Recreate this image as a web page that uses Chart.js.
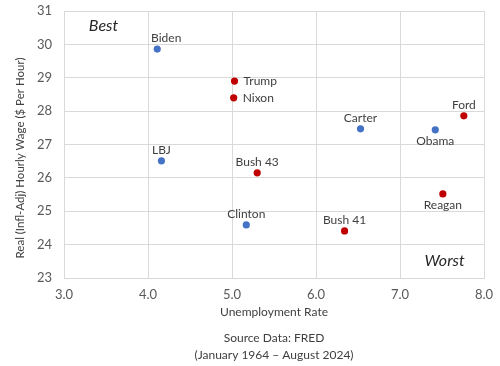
<!DOCTYPE html>
<html>
<head>
<meta charset="utf-8">
<script src="https://cdn.jsdelivr.net/npm/chart.js@4/dist/chart.umd.min.js"></script>
<style>
  html, body { margin: 0; padding: 0; background: #ffffff; }
  #wrap { width: 500px; height: 366px; }
</style>
</head>
<body>
<div id="wrap"><canvas id="c" width="500" height="366"></canvas></div>
<script>
const presidents   = ['Biden', 'Trump', 'Nixon', 'LBJ', 'Bush 43', 'Clinton', 'Bush 41', 'Carter', 'Obama', 'Ford', 'Reagan'];
const unemployment = [4.11, 5.03, 5.02, 4.16, 5.30, 5.17, 6.34, 6.53, 7.42, 7.76, 7.51];
const realWage     = [29.86, 28.90, 28.40, 26.51, 26.15, 24.59, 24.41, 27.47, 27.44, 27.86, 25.52];
const party        = ['D', 'R', 'R', 'D', 'R', 'D', 'R', 'D', 'D', 'R', 'R'];
const xTicks = [3.0, 4.0, 5.0, 6.0, 7.0, 8.0];
const yTicks = [23, 24, 25, 26, 27, 28, 29, 30, 31];

const labelPlacement = ['top', 'right', 'right', 'top', 'top', 'top', 'top', 'top', 'bottom', 'top', 'bottom'];

const partyColor = { D: '#4472C4', R: '#C00000' };
const FONT = "Lato, 'Open Sans', sans-serif";

function buildDataset(p) {
  const pts = [];
  presidents.forEach((name, i) => {
    if (party[i] === p) pts.push({ x: unemployment[i], y: realWage[i], name: name, place: labelPlacement[i] });
  });
  return {
    label: p,
    data: pts,
    backgroundColor: partyColor[p],
    borderColor: partyColor[p],
    borderWidth: 0,
    pointRadius: 3.6,
    pointHoverRadius: 3.6
  };
}

const labelsPlugin = {
  id: 'pointLabels',
  afterDatasetsDraw(chart) {
    const ctx = chart.ctx;
    const xs = chart.scales.x, ys = chart.scales.y;
    const area = chart.chartArea;
    ctx.save();
    ctx.font = '12px ' + FONT;
    ctx.fillStyle = '#404040';
    chart.data.datasets.forEach(ds => {
      ds.data.forEach(d => {
        const px = xs.getPixelForValue(d.x), py = ys.getPixelForValue(d.y);
        if (d.place === 'top') {
          ctx.textAlign = 'center'; ctx.textBaseline = 'middle';
          ctx.fillText(d.name, px + (d.name === 'Biden' ? 9 : 0), py - 11);
        } else if (d.place === 'bottom') {
          ctx.textAlign = 'center'; ctx.textBaseline = 'middle';
          ctx.fillText(d.name, px, py + 11);
        } else {
          ctx.textAlign = 'left'; ctx.textBaseline = 'middle';
          ctx.fillText(d.name, px + 9, py);
        }
      });
    });
    // corner annotations
    ctx.font = 'italic 16px ' + FONT;
    ctx.fillStyle = '#262626';
    ctx.textAlign = 'center'; ctx.textBaseline = 'middle';
    ctx.fillText('Best', xs.getPixelForValue(3.47), ys.getPixelForValue(30.55));
    ctx.fillText('Worst', xs.getPixelForValue(7.53), ys.getPixelForValue(23.52));
    // y axis title
    ctx.font = '11.5px ' + FONT;
    ctx.fillStyle = '#404040';
    ctx.save();
    ctx.translate(20, 158);
    ctx.rotate(-Math.PI / 2);
    ctx.fillText('Real (Infl-Adj) Hourly Wage ($ Per Hour)', 0, 0);
    ctx.restore();
    // source note
    const cx = (area.left + area.right) / 2;
    ctx.font = '12px ' + FONT;
    ctx.fillStyle = '#404040';
    ctx.fillText('Source Data: FRED', cx, 338);
    ctx.fillText('(January 1964 \u2013 August 2024)', cx, 355);
    ctx.restore();
  }
};

new Chart(document.getElementById('c'), {
  type: 'scatter',
  data: { datasets: [buildDataset('D'), buildDataset('R')] },
  options: {
    responsive: false,
    animation: false,
    layout: { autoPadding: false, padding: { left: 0, right: 16, top: 11, bottom: 47 } },
    plugins: { legend: { display: false }, tooltip: { enabled: false } },
    scales: {
      x: {
        type: 'linear', min: 3, max: 8,
        afterBuildTicks(s) { s.ticks = xTicks.map(v => ({ value: v })); },
        afterFit(s) { s.height = 41; s.paddingLeft = 0; s.paddingRight = 0; },
        ticks: { callback: v => Number(v).toFixed(1), color: '#595959', font: { family: FONT, size: 13 }, padding: 9 },
        grid: { color: '#d9d9d9', drawTicks: false },
        border: { color: '#d9d9d9' },
        title: { display: true, text: 'Unemployment Rate', color: '#404040', font: { family: FONT, size: 12 }, padding: { top: 0, bottom: 0 } }
      },
      y: {
        type: 'linear', min: 23, max: 31,
        afterBuildTicks(s) { s.ticks = yTicks.map(v => ({ value: v })); },
        afterFit(s) { s.width = 64; s.paddingTop = 0; s.paddingBottom = 0; },
        ticks: { callback: v => String(v), color: '#595959', font: { family: FONT, size: 13 }, padding: 12 },
        grid: { color: '#d9d9d9', drawTicks: false },
        border: { color: '#d9d9d9' },
        title: { display: false }
      }
    }
  },
  plugins: [labelsPlugin]
});
</script>
</body>
</html>
